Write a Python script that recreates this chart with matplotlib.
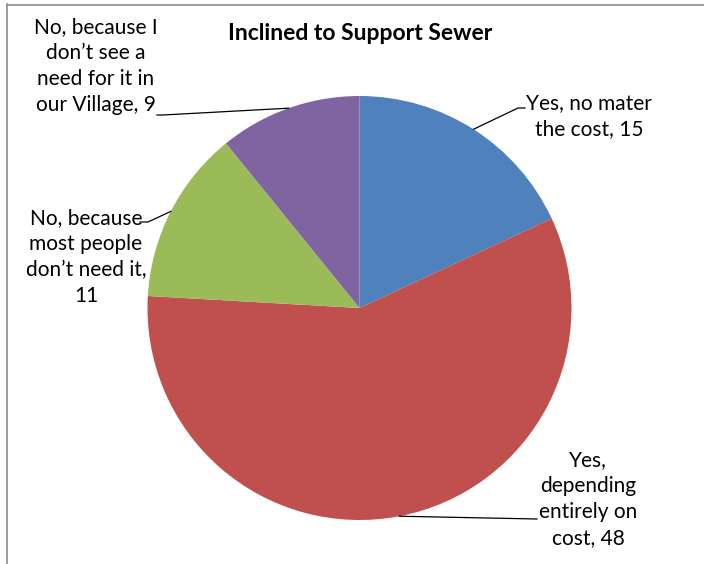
import numpy as np
import matplotlib
matplotlib.use("Agg")
import matplotlib.pyplot as plt
from matplotlib.lines import Line2D

title = "Inclined to Support Sewer"
categories = ["Yes, no mater\nthe cost", "Yes,\ndepending\nentirely on\ncost",
              "No, because\nmost people\ndon\u2019t need it,\n", "No, because I\ndon\u2019t see a\nneed for it in\nour Village"]
values = [15, 48, 11, 9]
colors = ["#4F81BD", "#C0504D", "#9BBB59", "#8064A2"]

W, H = 704, 564
CX, CY, R = 359.5, 308.0, 212.0

plt.rcParams['font.family'] = ['Lato', 'DejaVu Sans']
fig = plt.figure(figsize=(W / 100, H / 100), dpi=100)
ax = fig.add_axes([(CX - R) / W, (H - CY - R) / H, 2 * R / W, 2 * R / H])
ax.set_xlim(-1, 1)
ax.set_ylim(-1, 1)
ax.axis('off')

wedges, _ = ax.pie(values, colors=colors, startangle=90, counterclock=False,
                   radius=1, wedgeprops=dict(linewidth=0))
ax.set_xlim(-1, 1)
ax.set_ylim(-1, 1)


def px(x, y):
    return ((x - CX) / R, (CY - y) / R)


# label centres and leader-line attachment points (pixels)
label_pos = [(589, 116), (588, 499), (86, 257), (96, 66)]
attach = [[(518, 108), (525, 108)],
          [(537, 519)],
          [(148, 222), (140, 222)],
          [(163, 115), (157, 115)]]

for i, (w, v) in enumerate(zip(wedges, values)):
    mid = np.deg2rad((w.theta1 + w.theta2) / 2)
    sx, sy = np.cos(mid), np.sin(mid)
    pts = [(sx, sy)] + [px(*p) for p in attach[i]]
    xs, ys = zip(*pts)
    ax.add_line(Line2D(xs, ys, color='black', lw=0.9, clip_on=False))
    cat = categories[i]
    if cat.endswith("\n"):
        txt = f"{cat}{v}"
    else:
        txt = f"{cat}, {v}"
    tx, ty = px(*label_pos[i])
    ax.text(tx, ty, txt, ha='center', va='center', multialignment='center',
            fontsize=15, color='black', linespacing=1.38, clip_on=False)

fig.text(360 / W, 1 - 33 / H, title, ha='center', va='center',
         fontsize=16.5, fontweight='bold', color='black')

# chart border (partially visible)
fig.add_artist(Line2D([6.5 / W, 6.5 / W], [0, 1 - 4 / H], color='#8c8c8c', lw=1.2,
                      transform=fig.transFigure))
fig.add_artist(Line2D([6.5 / W, 1], [1 - 4.5 / H, 1 - 4.5 / H], color='#8c8c8c', lw=1.2,
                      transform=fig.transFigure))

fig.savefig("out.png", dpi=100)
